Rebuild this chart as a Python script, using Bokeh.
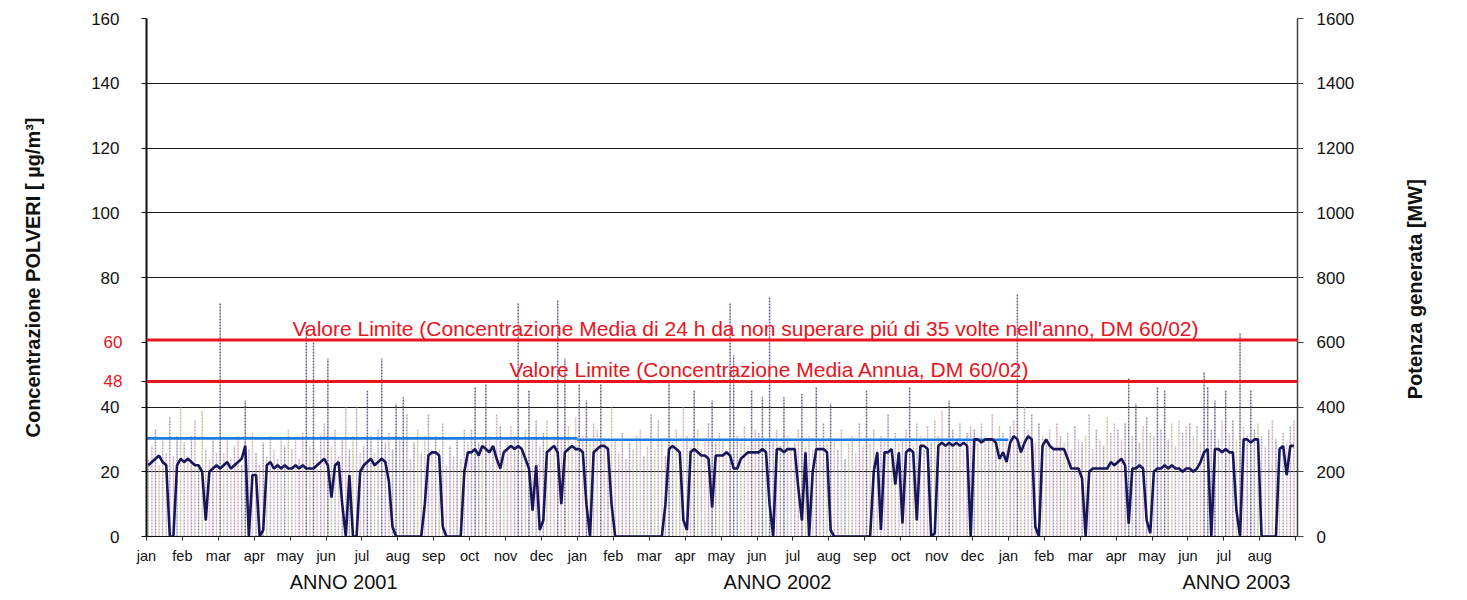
import math
from bokeh.plotting import figure
from bokeh.models import Range1d, LinearAxis, FixedTicker, Span, Label
from bokeh.embed import file_html
from bokeh.resources import INLINE

# ---------------- data ----------------
month_labels = (["jan", "feb", "mar", "apr", "may", "jun", "jul", "aug", "sep", "oct", "nov", "dec"] * 2
                + ["jan", "feb", "mar", "apr", "may", "jun", "jul", "aug"])
year_labels = ["ANNO 2001", "ANNO 2002", "ANNO 2003"]
year_label_pos = [5.49, 17.57, 30.35]

left_ticks = [0, 20, 40, 80, 100, 120, 140, 160]
red_ticks = [48, 60]
right_ticks = [0, 200, 400, 600, 800, 1000, 1200, 1400, 1600]

# concentration of dust (µg/m³), ~every 3 days, one row per month (jan 2001 .. aug 2003)
conc = [
    [24, 28, 33, 22, 30, 26, 37, 25, 31, 40],
    [29, 25, 31, 36, 22, 39, 27, 24, 30, 26],
    [72, 26, 30, 24, 28, 31, 22, 42, 27, 32],
    [26, 22, 29, 25, 31, 27, 24, 30, 28, 33],
    [27, 30, 24, 32, 65, 28, 60, 26, 31, 35],
    [55, 28, 33, 25, 30, 40, 27, 31, 40, 26],
    [28, 45, 31, 26, 33, 55, 29, 32, 27, 41],
    [30, 43, 38, 24, 29, 33, 26, 31, 38, 27],
    [31, 27, 35, 22, 28, 25, 30, 24, 33, 29],
    [33, 46, 29, 30, 47, 31, 28, 38, 34, 27],
    [29, 34, 31, 72, 27, 33, 45, 30, 36, 28],
    [32, 36, 28, 31, 73, 30, 55, 34, 29, 37],
    [47, 31, 42, 29, 35, 33, 47, 30, 28, 40],
    [30, 26, 32, 24, 29, 27, 31, 33, 25, 28],
    [38, 27, 36, 30, 25, 48, 29, 33, 26, 40],
    [31, 28, 45, 33, 27, 30, 35, 42, 29, 32],
    [30, 27, 72, 56, 31, 29, 34, 28, 45, 33],
    [32, 43, 29, 74, 30, 33, 28, 43, 31, 27],
    [29, 33, 44, 28, 31, 27, 46, 30, 35, 29],
    [41, 30, 27, 33, 24, 29, 31, 26, 35, 28],
    [45, 29, 33, 27, 31, 30, 38, 26, 32, 29],
    [30, 33, 46, 28, 35, 31, 27, 34, 29, 36],
    [31, 39, 28, 42, 33, 30, 35, 27, 32, 34],
    [33, 29, 35, 31, 30, 38, 28, 34, 32, 30],
    [34, 36, 75, 30, 40, 33, 38, 29, 35, 31],
    [30, 33, 28, 35, 31, 29, 32, 27, 34, 30],
    [29, 31, 38, 27, 33, 30, 28, 37, 32, 35],
    [33, 30, 35, 49, 31, 41, 29, 34, 37, 32],
    [31, 46, 33, 45, 30, 35, 28, 36, 32, 34],
    [35, 31, 34, 29, 51, 46, 33, 42, 30, 36],
    [45, 32, 36, 30, 63, 34, 31, 45, 33, 35],
    [31, 28, 33, 36, 30, 27, 32, 29, 34, 36],
]

# generated power (MW), ~every 3 days, one row per month
power_mw = [
    [220, 230, 240, 250, 230, 220, 0, 0, 220, 240],
    [230, 240, 230, 220, 220, 200, 50, 200, 210, 220],
    [210, 220, 230, 210, 220, 230, 240, 280, 0, 190],
    [190, 0, 20, 220, 230, 210, 220, 210, 220, 210],
    [210, 220, 210, 220, 210, 210, 210, 220, 230, 240],
    [220, 120, 220, 230, 100, 0, 190, 0, 0, 200],
    [220, 230, 240, 220, 230, 240, 230, 170, 30, 0],
    [0, 0, 0, 0, 0, 0, 0, 100, 250, 260],
    [260, 250, 30, 0, 0, 0, 0, 0, 200, 260],
    [260, 270, 250, 280, 270, 260, 280, 240, 210, 260],
    [270, 280, 270, 280, 270, 240, 210, 80, 220, 20],
    [50, 260, 270, 280, 260, 100, 260, 270, 280, 270],
    [270, 260, 100, 0, 260, 270, 280, 280, 270, 100],
    [0, 0, 0, 0, 0, 0, 0, 0, 0, 0],
    [0, 0, 0, 0, 100, 270, 280, 270, 260, 50],
    [20, 260, 270, 260, 250, 250, 240, 90, 250, 250],
    [250, 260, 250, 210, 210, 240, 250, 260, 260, 260],
    [260, 270, 260, 100, 0, 270, 270, 260, 270, 270],
    [270, 150, 50, 260, 0, 200, 270, 270, 270, 260],
    [20, 0, 0, 0, 0, 0, 0, 0, 0, 0],
    [0, 0, 200, 260, 20, 260, 260, 270, 160, 260],
    [40, 260, 270, 260, 50, 280, 280, 270, 0, 10],
    [280, 290, 280, 290, 280, 290, 280, 290, 280, 0],
    [300, 300, 290, 300, 300, 300, 290, 240, 260, 230],
    [290, 310, 300, 260, 290, 310, 300, 30, 0, 280],
    [300, 280, 270, 270, 270, 270, 240, 210, 210, 210],
    [180, 0, 200, 210, 210, 210, 210, 210, 230, 220],
    [230, 240, 220, 40, 210, 210, 220, 210, 50, 10],
    [200, 210, 210, 220, 210, 220, 210, 210, 200, 210],
    [210, 200, 210, 230, 260, 270, 0, 270, 270, 260],
    [270, 260, 260, 80, 0, 300, 300, 290, 300, 300],
    [0, 0, 0, 0, 0, 270, 280, 190, 280, 280],
]

annual_mean = [30.3, 29.9]          # running annual mean 2001, 2002
limit_24h = 60.7
limit_annual = 47.9
text_24h = "Valore Limite (Concentrazione Media di 24 h da non superare piú di 35 volte nell'anno, DM 60/02)"
text_annual = "Valore Limite (Concentrazione Media Annua, DM 60/02)"
left_title = "Concentrazione POLVERI [ µg/m³]"
right_title = "Potenza generata [MW]"
right_title_anchor = 424   # MW level where the rotated title starts

# ---------------- build ----------------
FONT = "Liberation Sans"
RED = "#e8141e"
INK = "#111111"

n_months = len(conc)
xs, cv, pv = [], [], []
for m in range(n_months):
    n = len(conc[m])
    for k in range(n):
        xs.append(m + (k + 0.5) / n)
        cv.append(conc[m][k])
        pv.append(power_mw[m][k])

bar_palette = ["#a898bc", "#d4a4b4", "#9890b0", "#c8bc8c", "#b4a8c0", "#d8b0bc"]
bar_colors = []
for i, v in enumerate(cv):
    if v > 40:
        bar_colors.append("#6e6088")
    else:
        bar_colors.append(bar_palette[i % len(bar_palette)])

p = figure(width=1450, height=595, output_backend="svg", toolbar_location=None,
           x_range=Range1d(0, 32.05), y_range=Range1d(0, 160),
           min_border_left=146, min_border_right=153, min_border_top=18, min_border_bottom=10)
p.extra_y_ranges = {"power": Range1d(0, 1600)}
p.outline_line_color = None
p.background_fill_color = "white"
p.border_fill_color = "white"

# grid
p.xgrid.visible = False
p.ygrid.ticker = FixedTicker(ticks=[20, 40, 80, 100, 120, 140, 160])
p.ygrid.grid_line_color = "#1a1a1a"
p.ygrid.grid_line_width = 1.2

# concentration bars (dotted)
p.segment(x0=xs, x1=xs, y0=[0] * len(xs), y1=cv, line_color=bar_colors,
          line_width=1.5, line_dash="2 1")

# limits
p.add_layout(Span(location=limit_24h, dimension="width", line_color=RED, line_width=3))
p.add_layout(Span(location=limit_annual, dimension="width", line_color=RED, line_width=3))

# annual mean line
p.segment(x0=[0, 12], x1=[12, 24], y0=annual_mean, y1=annual_mean,
          line_color="#1e7be0", line_width=2.6)

# power line
p.line(xs, pv, y_range_name="power", line_color="#18165a", line_width=2.6)

# red texts
p.add_layout(Label(x=16.68, y=64.4, text=text_24h, text_align="center", text_baseline="middle",
                   text_color=RED, text_font=FONT, text_font_size="21px"))
p.add_layout(Label(x=17.35, y=51.7, text=text_annual, text_align="center", text_baseline="middle",
                   text_color=RED, text_font=FONT, text_font_size="21px"))

# inner left axis: line, all ticks, red labels 48 / 60
ya = p.yaxis[0]
ya.ticker = FixedTicker(ticks=left_ticks + red_ticks)
ya.major_label_overrides = {t: " " for t in left_ticks}
ya.axis_line_color = INK
ya.axis_line_width = 2
ya.major_tick_line_color = INK
ya.major_tick_out = 5
ya.major_tick_in = 0
ya.minor_tick_line_color = None
ya.major_label_standoff = 19
ya.major_label_text_font = FONT
ya.major_label_text_font_size = "17px"
ya.major_label_text_color = RED

# outer left axis: black labels pulled back over the inner one, plus the title
yb = LinearAxis(ticker=FixedTicker(ticks=left_ticks))
yb.axis_line_color = None
yb.major_tick_line_color = None
yb.minor_tick_line_color = None
yb.major_tick_out = 0
yb.major_tick_in = 0
yb.major_label_standoff = -19
yb.major_label_text_font = FONT
yb.major_label_text_font_size = "17px"
yb.major_label_text_color = INK
yb.axis_label = left_title
yb.axis_label_text_font = FONT
yb.axis_label_text_font_style = "bold"
yb.axis_label_text_font_size = "20px"
yb.axis_label_text_color = INK
yb.axis_label_standoff = 44
p.add_layout(yb, "left")

# right axis
ra = LinearAxis(y_range_name="power", ticker=FixedTicker(ticks=right_ticks))
ra.axis_line_color = "#444444"
ra.axis_line_width = 1.5
ra.major_tick_line_color = "#444444"
ra.major_tick_out = 6
ra.major_tick_in = 0
ra.minor_tick_line_color = None
ra.major_label_standoff = 13
ra.major_label_text_font = FONT
ra.major_label_text_font_size = "17px"
ra.major_label_text_color = INK
p.add_layout(ra, "right")

# right title as a rotated label of an outer axis (reads bottom to top)
rt = LinearAxis(y_range_name="power", ticker=FixedTicker(ticks=[right_title_anchor]),
                major_label_overrides={right_title_anchor: right_title},
                major_label_orientation=math.pi / 2)
rt.axis_line_color = None
rt.major_tick_line_color = None
rt.minor_tick_line_color = None
rt.major_tick_out = 0
rt.major_tick_in = 0
rt.major_label_standoff = 58
rt.major_label_text_font = FONT
rt.major_label_text_font_style = "bold"
rt.major_label_text_font_size = "20px"
rt.major_label_text_color = INK
p.add_layout(rt, "right")

# bottom month axis
xa = p.xaxis[0]
xa.ticker = FixedTicker(ticks=list(range(0, n_months + 1)))
ovr = {i: month_labels[i] for i in range(n_months)}
ovr[n_months] = " "
xa.major_label_overrides = ovr
xa.axis_line_color = INK
xa.axis_line_width = 1.2
xa.major_tick_line_color = "#333333"
xa.major_tick_out = 4
xa.major_tick_in = 0
xa.minor_tick_line_color = None
xa.major_label_standoff = 7
xa.major_label_text_font = FONT
xa.major_label_text_font_size = "14.5px"
xa.major_label_text_color = INK

# year axis
yr = LinearAxis(ticker=FixedTicker(ticks=year_label_pos),
                major_label_overrides={year_label_pos[i]: year_labels[i] for i in range(3)})
yr.axis_line_color = None
yr.major_tick_line_color = None
yr.minor_tick_line_color = None
yr.major_tick_out = 0
yr.major_tick_in = 0
yr.major_label_standoff = 4
yr.major_label_text_font = FONT
yr.major_label_text_font_size = "20px"
yr.major_label_text_color = INK
p.add_layout(yr, "below")

open("out.html", "w").write(file_html(p, INLINE))
